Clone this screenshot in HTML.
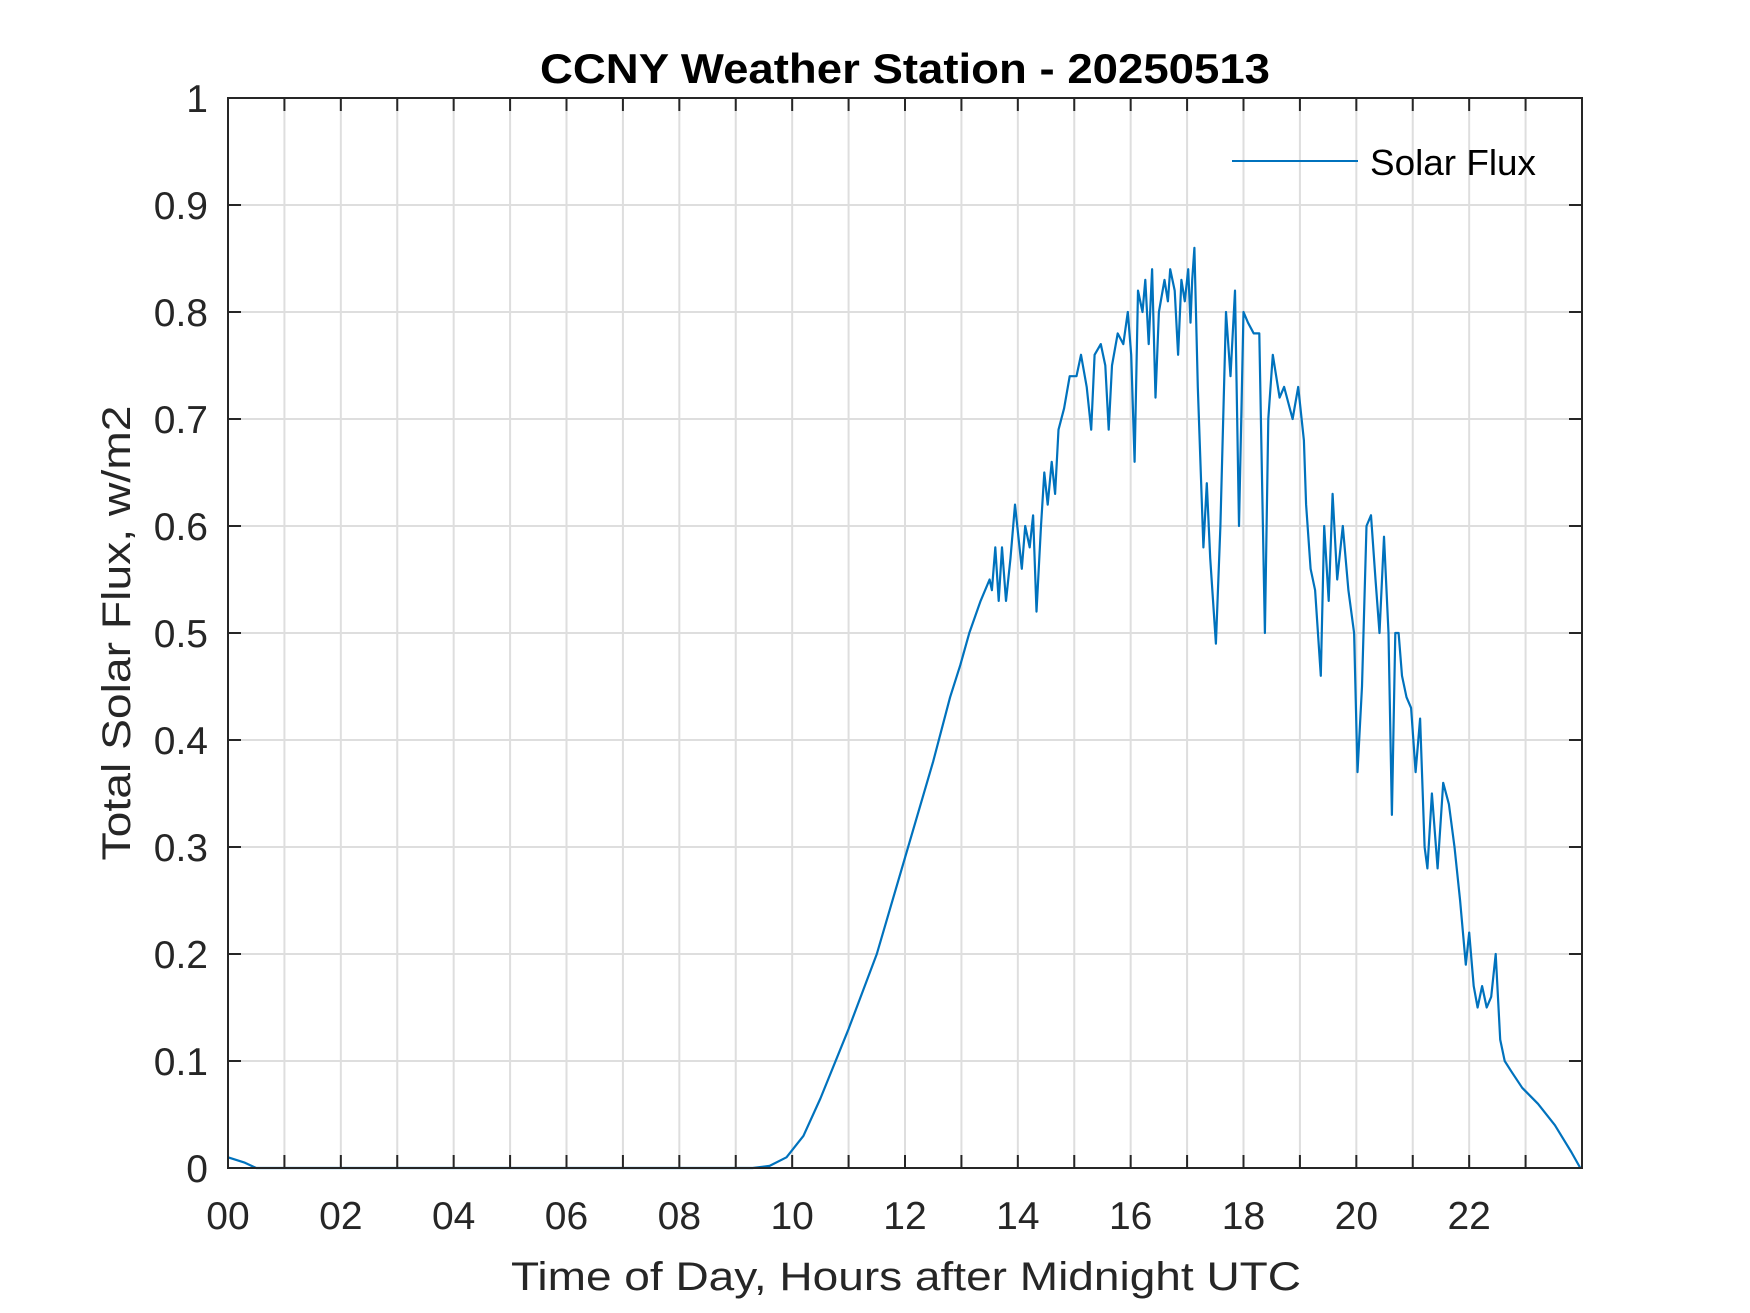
<!DOCTYPE html>
<html><head><meta charset="utf-8"><style>
html,body{margin:0;padding:0;background:#fff;}
svg{display:block;font-family:"Liberation Sans",Arial,sans-serif;}
</style></head><body>
<svg id="chart" width="1750" height="1313" viewBox="0 0 1750 1313" xmlns="http://www.w3.org/2000/svg">
<rect x="0" y="0" width="1750" height="1313" fill="#fff"/>
<g id="grid"></g>
<g id="series"></g>
<g id="axes"></g>
<text x="905" y="83" text-anchor="middle" font-size="42" font-weight="bold" fill="#000" textLength="730" lengthAdjust="spacingAndGlyphs">CCNY Weather Station - 20250513</text>
<text x="906" y="1290" text-anchor="middle" font-size="40" fill="#262626" textLength="790" lengthAdjust="spacingAndGlyphs">Time of Day, Hours after Midnight UTC</text>
<text transform="translate(130,633) rotate(-90)" text-anchor="middle" font-size="40" fill="#262626" textLength="455" lengthAdjust="spacingAndGlyphs">Total Solar Flux, w/m2</text>
<g>
<line x1="1232" y1="161" x2="1358" y2="161" stroke="#0072BD" stroke-width="2"/>
<text x="1370" y="175" font-size="36" fill="#000" textLength="166" lengthAdjust="spacingAndGlyphs">Solar Flux</text>
</g>
</svg>
<script>
const hours = [0,0.3,0.5,1,3,5,7,9,9.3,9.6,9.9,10.2,10.5,11,11.5,12,12.5,12.8,
12.98,13.14,13.34,13.50,13.54,13.60,13.66,13.72,13.79,13.87,13.95,14.01,14.07,14.13,14.21,14.27,14.33,14.41,14.47,14.53,14.60,14.66,14.72,14.82,14.92,15.04,15.12,15.22,15.30,15.36,15.47,15.55,15.61,15.67,15.77,15.87,15.95,16.01,16.07,16.13,16.21,16.26,16.32,16.38,16.44,16.50,16.60,16.66,16.70,16.78,16.84,16.90,16.96,17.02,17.06,17.09,17.13,17.19,17.29,17.35,17.41,17.51,17.59,17.69,17.77,17.85,17.92,18.00,18.08,18.18,18.28,18.38,18.44,18.52,18.64,18.72,18.87,18.97,19.07,19.11,19.19,19.27,19.37,19.43,19.51,19.58,19.66,19.76,19.86,19.96,20.02,20.10,20.18,20.26,20.34,20.41,20.49,20.57,20.63,20.69,20.75,20.81,20.89,20.97,21.05,21.13,21.21,21.26,21.34,21.44,21.54,21.64,21.74,21.84,21.94,22.00,22.08,22.15,22.23,22.31,22.39,22.47,22.55,22.63,22.75,22.94,23.22,23.52,23.81,23.97];
const flux = [0.01,0.005,0,0,0,0,0,0,0,0.002,0.01,0.03,0.065,0.13,0.2,0.29,0.38,0.44,
0.47,0.50,0.53,0.55,0.54,0.58,0.53,0.58,0.53,0.57,0.62,0.59,0.56,0.60,0.58,0.61,0.52,0.60,0.65,0.62,0.66,0.63,0.69,0.71,0.74,0.74,0.76,0.73,0.69,0.76,0.77,0.75,0.69,0.75,0.78,0.77,0.80,0.76,0.66,0.82,0.80,0.83,0.77,0.84,0.72,0.80,0.83,0.81,0.84,0.82,0.76,0.83,0.81,0.84,0.79,0.83,0.86,0.73,0.58,0.64,0.57,0.49,0.60,0.80,0.74,0.82,0.60,0.80,0.79,0.78,0.78,0.50,0.70,0.76,0.72,0.73,0.70,0.73,0.68,0.62,0.56,0.54,0.46,0.60,0.53,0.63,0.55,0.60,0.54,0.50,0.37,0.45,0.60,0.61,0.55,0.50,0.59,0.50,0.33,0.50,0.50,0.46,0.44,0.43,0.37,0.42,0.30,0.28,0.35,0.28,0.36,0.34,0.30,0.25,0.19,0.22,0.17,0.15,0.17,0.15,0.16,0.20,0.12,0.10,0.09,0.075,0.06,0.04,0.015,0];
const xTicks = [0,2,4,6,8,10,12,14,16,18,20,22];
const xTickLabels = ["00","02","04","06","08","10","12","14","16","18","20","22"];
const yTicks = [0,0.1,0.2,0.3,0.4,0.5,0.6,0.7,0.8,0.9,1];
const yTickLabels = ["0","0.1","0.2","0.3","0.4","0.5","0.6","0.7","0.8","0.9","1"];

const L=228,R=1582,T=98,B=1168, XMAX=24;
const NS="http://www.w3.org/2000/svg";
const xs=h=>L+(h/XMAX)*(R-L);
const ys=v=>B-v*(B-T);
function mk(tag,attrs,parent){const e=document.createElementNS(NS,tag);for(const k in attrs)e.setAttribute(k,attrs[k]);parent.appendChild(e);return e;}
const grid=document.getElementById('grid'), axes=document.getElementById('axes'), series=document.getElementById('series');
for(let h=1;h<XMAX;h++){
  const g=mk('line',{x1:xs(h),x2:xs(h),y1:T,y2:B,stroke:'#dedede','stroke-width':2},grid);
  
  
  const t1=mk('line',{x1:xs(h),x2:xs(h),y1:B,y2:B-13,stroke:'#262626','stroke-width':2},axes);
  
  
  const t2=mk('line',{x1:xs(h),x2:xs(h),y1:T,y2:T+13,stroke:'#262626','stroke-width':2},axes);
  
  
}
yTicks.forEach((v,i)=>{
  if(v>0&&v<1){
    const g=mk('line',{x1:L,x2:R,y1:ys(v),y2:ys(v),stroke:'#dedede','stroke-width':2},grid);
    
    
    const t1=mk('line',{x1:L,x2:L+13,y1:ys(v),y2:ys(v),stroke:'#262626','stroke-width':2},axes);
    
    
    const t2=mk('line',{x1:R,x2:R-13,y1:ys(v),y2:ys(v),stroke:'#262626','stroke-width':2},axes);
    
    
  }
  const lb=mk('text',{x:208,y:ys(v)+14,'text-anchor':'end','font-size':39,fill:'#262626'},axes);
  lb.textContent=yTickLabels[i];
  
  
});
xTicks.forEach((h,i)=>{
  const lb=mk('text',{x:xs(h),y:1229,'text-anchor':'middle','font-size':39,fill:'#262626'},axes);
  lb.textContent=xTickLabels[i];
  
  
});
const box=mk('rect',{x:L,y:T,width:R-L,height:B-T,fill:'none',stroke:'#262626','stroke-width':2},axes);


const d=hours.map((h,i)=>(i?'L':'M')+xs(h).toFixed(1)+','+ys(flux[i]).toFixed(1)).join(' ');
const path=mk('path',{d:d,fill:'none',stroke:'#0072BD','stroke-width':2.2,'stroke-linejoin':'round'},series);


</script>
</body></html>
